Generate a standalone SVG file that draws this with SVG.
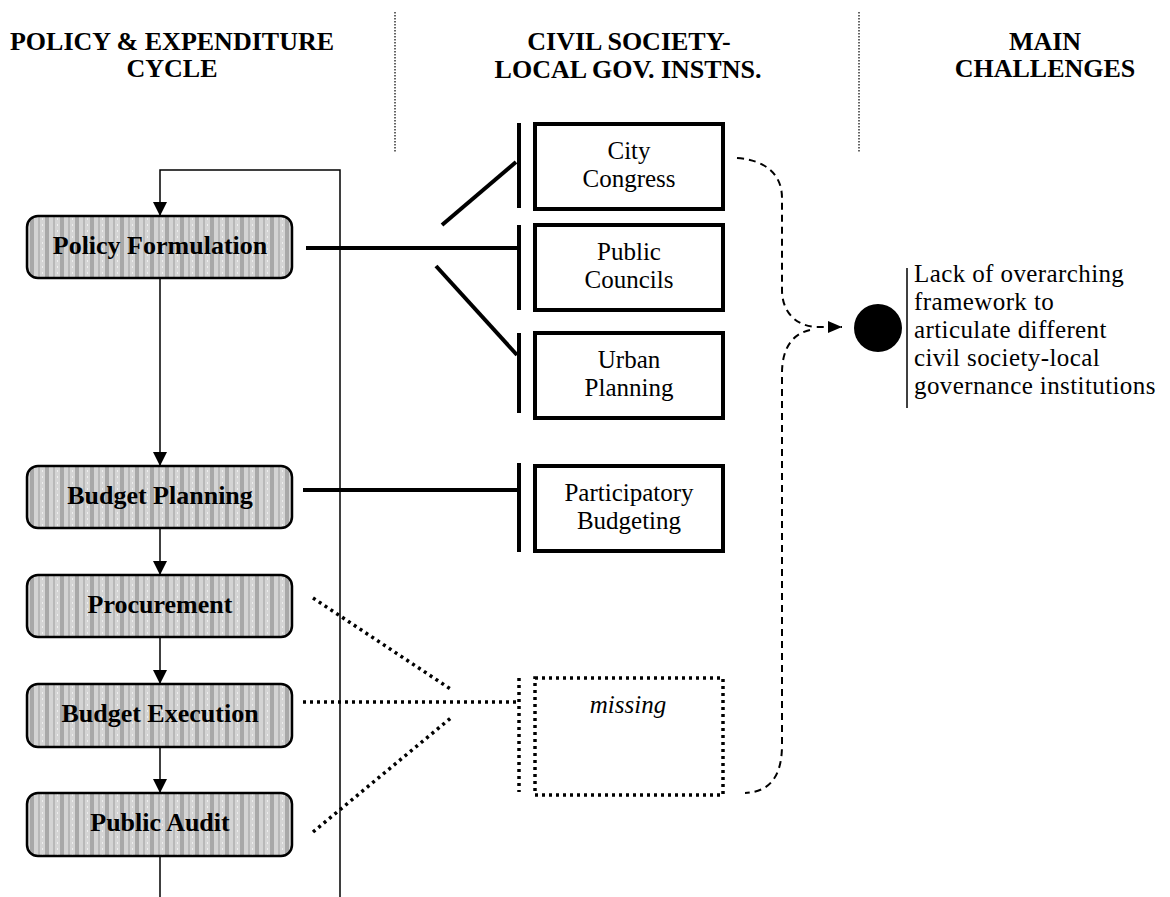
<svg xmlns="http://www.w3.org/2000/svg" width="1170" height="897" viewBox="0 0 1170 897">
<defs>
  <pattern id="stripes" width="15" height="6" patternUnits="userSpaceOnUse">
    <rect width="15" height="6" fill="#d4d4d4"/>
    <rect x="0" width="4" height="6" fill="#a8a8a8"/>
    <rect x="8" width="2" height="6" fill="#b8b8b8"/>
    <rect x="12" y="2" width="1" height="2" fill="#eeeeee"/>
  </pattern>
  <marker id="arr" markerUnits="userSpaceOnUse" markerWidth="14" markerHeight="14" refX="14" refY="7" orient="auto">
    <path d="M0,0 L14,7 L0,14 Z" fill="#000"/>
  </marker>
  <marker id="arr2" markerUnits="userSpaceOnUse" markerWidth="14" markerHeight="12" refX="14" refY="6" orient="auto">
    <path d="M0,0 L14,6 L0,12 Z" fill="#000"/>
  </marker>
</defs>
<style>
  .hdr { font-family: "Liberation Serif", "Times New Roman", serif; font-weight: bold; font-size: 26px; text-anchor: middle; fill: #000; }
  .sep { stroke: #333; stroke-width: 1.5; stroke-dasharray: 1.5 1.5; fill: none; }
  .stage rect { fill: url(#stripes); stroke: #000; stroke-width: 2.5; }
  .stage text { font-family: "Liberation Serif", "Times New Roman", serif; font-weight: bold; font-size: 26px; text-anchor: middle; fill: #000; }
  .inst rect { fill: #fff; stroke: #000; stroke-width: 4; }
  .inst text, .note text { font-family: "Liberation Serif", "Times New Roman", serif; font-size: 25px; text-anchor: middle; fill: #000; }
  .missing rect { fill: #fff; stroke: #000; stroke-width: 3.5; stroke-dasharray: 3 4; }
  .missing text { font-style: italic; }
  .thin { stroke: #000; stroke-width: 1.5; fill: none; }
  .thick { stroke: #000; stroke-width: 4; fill: none; }
  .dot { stroke: #000; stroke-width: 3.5; stroke-dasharray: 3 4; fill: none; }
  .dash { stroke: #000; stroke-width: 2; stroke-dasharray: 7 5; fill: none; }
  .note text { text-anchor: start; font-size: 25px; letter-spacing: 0.4px; }
</style>
<rect width="1170" height="897" fill="#fff"/>

<g id="headers">
  <text class="hdr" x="172" y="50">POLICY &amp; EXPENDITURE</text>
  <text class="hdr" x="172" y="77">CYCLE</text>
  <text class="hdr" x="629" y="50">CIVIL SOCIETY-</text>
  <text class="hdr" x="628" y="78">LOCAL GOV. INSTNS.</text>
  <text class="hdr" x="1045" y="50">MAIN</text>
  <text class="hdr" x="1045" y="77">CHALLENGES</text>
  <line class="sep" x1="395" y1="12" x2="395" y2="152"/>
  <line class="sep" x1="859" y1="12" x2="859" y2="152"/>
</g>

<g id="connectors">
  <path class="thin" d="M340,897 L340,170 L160,170 L160,216" marker-end="url(#arr)"/>
  <line class="thin" x1="160" y1="278" x2="160" y2="466" marker-end="url(#arr)"/>
  <line class="thin" x1="160" y1="528" x2="160" y2="575" marker-end="url(#arr)"/>
  <line class="thin" x1="160" y1="637" x2="160" y2="684" marker-end="url(#arr)"/>
  <line class="thin" x1="160" y1="747" x2="160" y2="793" marker-end="url(#arr)"/>
  <line class="thin" x1="160" y1="856" x2="160" y2="897"/>
  <line class="thick" x1="306" y1="248" x2="519" y2="248"/>
  <line class="thick" x1="442" y1="225" x2="516" y2="162"/>
  <line class="thick" x1="436" y1="266" x2="517" y2="355"/>
  <line class="thick" x1="519" y1="123" x2="519" y2="208"/>
  <line class="thick" x1="519" y1="225" x2="519" y2="310"/>
  <line class="thick" x1="519" y1="333" x2="519" y2="413"/>
  <line class="thick" x1="303" y1="490" x2="519" y2="490"/>
  <line class="thick" x1="519" y1="463" x2="519" y2="552"/>
  <line class="dot" x1="313" y1="598" x2="452" y2="690"/>
  <line class="dot" x1="303" y1="702" x2="519" y2="702"/>
  <line class="dot" x1="313" y1="832" x2="452" y2="717"/>
  <line class="dot" x1="519" y1="678" x2="519" y2="792"/>
  <path class="dash" d="M737,158 C765,160 782,174 782,198 L782,290 C782,312 796,326 816,327 L842,327" marker-end="url(#arr2)"/>
  <path class="dash" d="M810,330 C792,334 782,349 782,373 L782,745 C782,776 770,792 745,793"/>
  <line class="thin" x1="907" y1="268" x2="907" y2="408"/>
</g>

<g id="policy-formulation" class="stage">
  <rect x="27" y="216" width="265" height="62" rx="11"/>
  <text x="160" y="254">Policy Formulation</text>
</g>
<g id="budget-planning" class="stage">
  <rect x="27" y="466" width="265" height="62" rx="11"/>
  <text x="160" y="504">Budget Planning</text>
</g>
<g id="procurement" class="stage">
  <rect x="27" y="575" width="265" height="62" rx="11"/>
  <text x="160" y="613">Procurement</text>
</g>
<g id="budget-execution" class="stage">
  <rect x="27" y="684" width="265" height="63" rx="11"/>
  <text x="160" y="722">Budget Execution</text>
</g>
<g id="public-audit" class="stage">
  <rect x="27" y="793" width="265" height="63" rx="11"/>
  <text x="160" y="831">Public Audit</text>
</g>

<g id="city-congress" class="inst">
  <rect x="535" y="124" width="188" height="85"/>
  <text x="629" y="159">City</text>
  <text x="629" y="187">Congress</text>
</g>
<g id="public-councils" class="inst">
  <rect x="535" y="225" width="188" height="85"/>
  <text x="629" y="260">Public</text>
  <text x="629" y="288">Councils</text>
</g>
<g id="urban-planning" class="inst">
  <rect x="535" y="333" width="188" height="85"/>
  <text x="629" y="368">Urban</text>
  <text x="629" y="396">Planning</text>
</g>
<g id="participatory-budgeting" class="inst">
  <rect x="535" y="466" width="188" height="85"/>
  <text x="629" y="501">Participatory</text>
  <text x="629" y="529">Budgeting</text>
</g>
<g id="missing" class="inst missing">
  <rect x="535" y="678" width="188" height="117"/>
  <text x="628" y="713">missing</text>
</g>

<g id="challenge" class="note">
  <circle cx="878" cy="328" r="24" fill="#000"/>
  <text x="914" y="282">Lack of overarching</text>
  <text x="914" y="310">framework to</text>
  <text x="914" y="338">articulate different</text>
  <text x="914" y="366">civil society-local</text>
  <text x="914" y="394">governance institutions</text>
</g>
</svg>
